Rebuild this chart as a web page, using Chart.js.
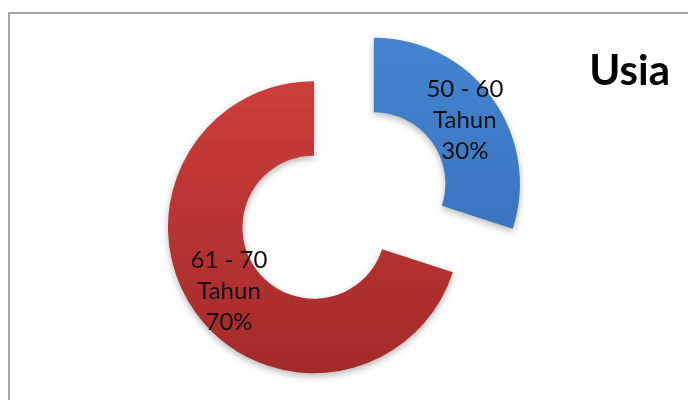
<!DOCTYPE html>
<html>
<head>
<meta charset="utf-8">
<script src="https://cdn.jsdelivr.net/npm/chart.js@4/dist/chart.umd.min.js"></script>
<style>
  html, body { margin: 0; padding: 0; background: #fff; overflow: hidden; }
  #frame {
    position: absolute; left: 8px; top: 12px;
    width: 800px; height: 500px;
    border: 2px solid #a6a6a6;
  }
  /* canvas is wider than the page so the ring sits left of the title */
  #usiaChart { position: absolute; left: -42px; top: 0; }
</style>
</head>
<body>
<div id="frame"></div>
<canvas id="usiaChart" width="730" height="400"></canvas>
<script>
const ageGroups = ['50 - 60', '61 - 70'];
const ageUnit = 'Tahun';
const shares = [30, 70];
const chartTitle = 'Usia';

const topColors = ['#4584d0', '#d4403e'];
const bottomColors = ['#3169b3', '#a22a29'];

// blue slice is pulled out of the ring by this many pixels
const EXPLODE = 74;

function sliceFill(c) {
    const chart = c.chart;
    const area = chart.chartArea;
    if (!area) return topColors[c.dataIndex];
    const cy = (area.top + area.bottom) / 2;
    const g = chart.ctx.createLinearGradient(0, cy - 190, 0, cy + 150);
    g.addColorStop(0, topColors[c.dataIndex]);
    g.addColorStop(1, bottomColors[c.dataIndex]);
    return g;
}

const explodeSlice = {
    id: 'explodeSlice',
    afterDatasetsUpdate(chart) {
        const arc = chart.getDatasetMeta(0).data[0];
        if (!arc) return;
        const mid = (arc.startAngle + arc.endAngle) / 2;
        arc.x += Math.cos(mid) * EXPLODE;
        arc.y += Math.sin(mid) * EXPLODE;
    },
    beforeDatasetsDraw(chart) {
        const ctx = chart.ctx;
        ctx.save();
        ctx.shadowColor = 'rgba(0,0,0,0.28)';
        ctx.shadowBlur = 7;
        ctx.shadowOffsetY = 3;
    },
    afterDatasetsDraw(chart) {
        const ctx = chart.ctx;
        ctx.restore();

        // labels: range, unit, percentage on three lines
        ctx.save();
        ctx.fillStyle = '#111';
        ctx.font = '24px Lato';
        ctx.textAlign = 'center';
        ctx.textBaseline = 'middle';
        chart.getDatasetMeta(0).data.forEach((arc, i) => {
            const p = arc.getCenterPoint();
            const lines = [ageGroups[i], ageUnit, shares[i] + '%'];
            lines.forEach((t, k) => {
                ctx.fillText(t, p.x + 3, p.y + (k - 1) * 31);
            });
        });
        ctx.restore();
    }
};

new Chart(document.getElementById('usiaChart'), {
    type: 'doughnut',
    data: {
        labels: ageGroups.map(a => a + ' ' + ageUnit),
        datasets: [{
            data: shares,
            backgroundColor: sliceFill,
            borderWidth: 0
        }]
    },
    options: {
        responsive: false,
        animation: false,
        radius: 146,
        cutout: '49%',
        layout: {
            padding: { left: 0, right: 18, top: 0, bottom: 42 }
        },
        plugins: {
            legend: { display: false },
            tooltip: { enabled: false },
            title: {
                display: true,
                text: chartTitle,
                align: 'end',
                color: '#000',
                font: { family: 'Lato', size: 42, weight: 'bold', lineHeight: 1.2 },
                padding: { top: 46, bottom: 0 }
            }
        }
    },
    plugins: [explodeSlice]
});
</script>
</body>
</html>
